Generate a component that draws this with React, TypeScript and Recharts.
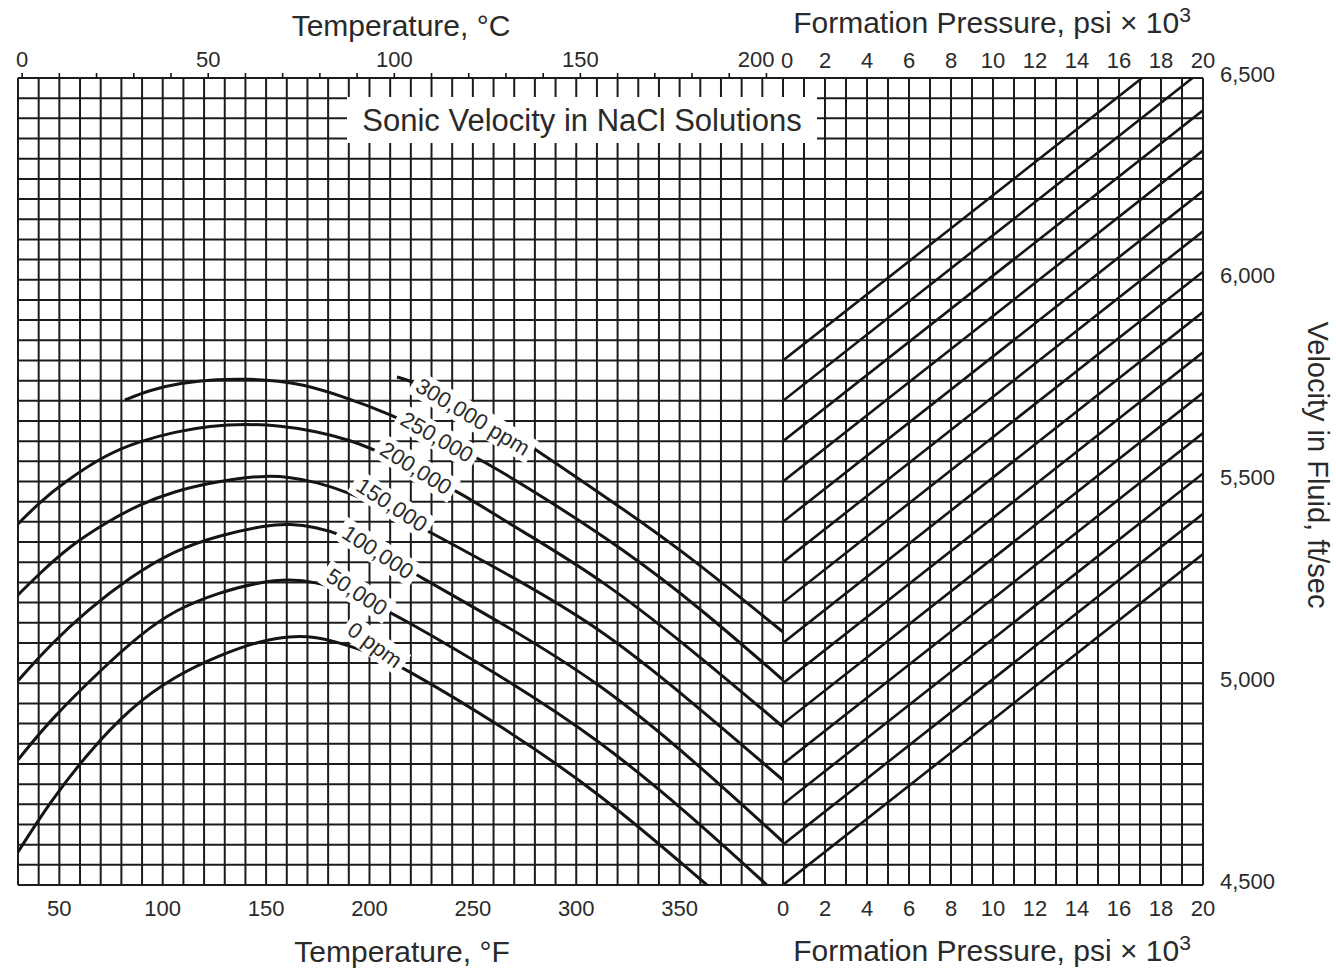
import React from 'react';
import { LineChart, Line, XAxis, YAxis, CartesianGrid, ReferenceDot } from 'recharts';

const FONT = '"Liberation Sans", Arial, Helvetica, sans-serif';
const INK = '#141414';
const GRID = '#1c1c1c';
const TEXT = '#2a2a2a';
const W = 1336;
const H = 971;

// ---------- axis ticks / grid values ----------
const tempFGrid = [30, 40, 50, 60, 70, 80, 90, 100, 110, 120, 130, 140, 150, 160, 170, 180, 190, 200, 210, 220, 230, 240, 250, 260, 270, 280, 290, 300, 310, 320, 330, 340, 350, 360, 370, 380, 390, 400];
const tempFLabels = [50, 100, 150, 200, 250, 300, 350];
const tempCTicks = [0, 10, 20, 30, 40, 50, 60, 70, 80, 90, 100, 110, 120, 130, 140, 150, 160, 170, 180, 190, 200];
const tempCLabels = [0, 50, 100, 150, 200];
const pressureGrid = [0, 1, 2, 3, 4, 5, 6, 7, 8, 9, 10, 11, 12, 13, 14, 15, 16, 17, 18, 19, 20];
const pressureLabels = [0, 2, 4, 6, 8, 10, 12, 14, 16, 18, 20];
const velocityGrid = [4500, 4550, 4600, 4650, 4700, 4750, 4800, 4850, 4900, 4950, 5000, 5050, 5100, 5150, 5200, 5250, 5300, 5350, 5400, 5450, 5500, 5550, 5600, 5650, 5700, 5750, 5800, 5850, 5900, 5950, 6000, 6050, 6100, 6150, 6200, 6250, 6300, 6350, 6400, 6450, 6500];
const velocityLabels = [4500, 5000, 5500, 6000, 6500];

// ---------- salinity curves: [temperature °F, velocity ft/s] ----------
const curve0 = [[30, 4582], [45.5, 4706], [63.8, 4827], [84.2, 4939], [105.9, 5018], [127.7, 5070], [147, 5105], [161.5, 5117], [174.1, 5115], [182.3, 5105], [202.6, 5072], [216.2, 5040], [263.1, 4897], [311.4, 4728], [363.2, 4500]];
const curve50k = [[30, 4810], [45.5, 4909], [72.1, 5043], [89, 5120], [105.9, 5182], [127.7, 5226], [147, 5251], [161.5, 5258], [174.1, 5251], [185.7, 5231], [200.2, 5201], [214.7, 5164], [263.1, 5020], [311.4, 4859], [355, 4674], [392.2, 4500]];
const curve100k = [[30, 5006], [45.5, 5095], [63.8, 5182], [84.2, 5263], [105.9, 5330], [127.7, 5367], [150.4, 5392], [161.5, 5395], [174.1, 5387], [185.7, 5370], [204.1, 5325], [222.9, 5268], [263.1, 5152], [311.4, 5001], [355, 4817], [400, 4607]];
const curve150k = [[30, 5219], [40.6, 5273], [55.1, 5340], [72.1, 5397], [89, 5444], [105.9, 5476], [122.8, 5496], [137.4, 5509], [150.4, 5514], [161.5, 5511], [174.1, 5499], [190.5, 5472], [210.9, 5424], [230.2, 5372], [263.1, 5281], [311.4, 5139], [355, 4958], [400, 4760]];
const curve200k = [[30, 5395], [40.6, 5449], [51.8, 5496], [72.1, 5566], [89, 5600], [105.9, 5623], [122.8, 5638], [140.3, 5643], [156.7, 5638], [174.1, 5625], [190.5, 5603], [205, 5573], [222.5, 5529], [243.3, 5474], [272.7, 5380], [311.4, 5261], [355, 5087], [400, 4892]];
const curve250k = [[81.7, 5702], [93.8, 5727], [108.3, 5744], [126.2, 5754], [142.2, 5754], [156.7, 5749], [166.4, 5742], [185.7, 5714], [211.3, 5665], [232.6, 5610], [254.4, 5553], [282.4, 5467], [323.5, 5330], [359.8, 5187], [400, 5008]];
const curve300k = [[213.3, 5759], [223.4, 5744], [252.4, 5672], [282.4, 5573], [316.3, 5454], [351.1, 5330], [400, 5127]];

const salinityCurves = [curve0, curve50k, curve100k, curve150k, curve200k, curve250k, curve300k];
const salinityNames = ['0 ppm', '50,000', '100,000', '150,000', '200,000', '250,000', '300,000 ppm'];
// where each curve's label sits (°F, ft/s) and its tilt (deg)
const tagF = [202.6, 193.9, 204.1, 210.8, 222.5, 232.6, 250.0];
const tagV = [5095, 5226, 5325, 5442, 5533, 5610, 5660];
const tagAngle = [36, 33, 33, 33, 32, 30, 31];

// ---------- pressure correction lines ----------
const pressureStartV = [4500, 4600, 4700, 4800, 4900, 5000, 5100, 5200, 5300, 5400, 5500, 5600, 5700, 5800];
const pressureEndP = [20, 20, 20, 20, 20, 20, 20, 20, 20, 20, 20, 20, 19.5, 17.1];
const pressureEndV = [5320, 5420, 5520, 5620, 5720, 5820, 5920, 6020, 6120, 6220, 6320, 6420, 6500, 6500];

const cDomain: [number, number] = [(30 - 32) / 1.8, (400 - 32) / 1.8];

const charW: Record<string, number> = { ',': 0.278, ' ': 0.278, p: 0.556, m: 0.833 };
const textWidth = (s: string, size: number) =>
  s.split('').reduce((a, c) => a + (charW[c] ?? 0.556), 0) * size;

const CurveTag = (props: any) => {
  const { cx, cy, text, angle } = props;
  if (cx == null || cy == null) return null;
  const w = textWidth(text, 22) + 10;
  return (
    <g transform={`translate(${cx},${cy}) rotate(${angle})`}>
      <rect x={-w / 2} y={-13} width={w} height={26} fill="#ffffff" />
      <text x={0} y={0} textAnchor="middle" dominantBaseline="central" fontSize={22} fill={TEXT} fontFamily={FONT}>
        {text}
      </text>
    </g>
  );
};

const VTick = (props: any) => {
  const { x, y, payload } = props;
  if (!velocityLabels.includes(payload.value)) return null;
  return (
    <text x={x} y={y - 4} dy="0.35em" textAnchor="start" fontSize={22} fill={TEXT} fontFamily={FONT}>
      {payload.value.toLocaleString('en-US')}
    </text>
  );
};

// °C labels on top; the last one is pulled left so it does not run into the pressure scale
const CTick = (props: any) => {
  const { x, y, payload } = props;
  const v = payload.value;
  if (!tempCLabels.includes(v)) return null;
  const last = v === tempCLabels[tempCLabels.length - 1];
  return (
    <text x={last ? x + 8 : x} y={y} textAnchor={last ? 'end' : 'middle'} fontSize={22} fill={TEXT} fontFamily={FONT}>
      {String(v)}
    </text>
  );
};

const PTopTick = (props: any) => {
  const { x, y, payload } = props;
  if (!pressureLabels.includes(payload.value)) return null;
  const first = payload.value === pressureLabels[0];
  return (
    <text x={first ? x + 4 : x} y={y} textAnchor="middle" fontSize={22} fill={TEXT} fontFamily={FONT}>
      {String(payload.value)}
    </text>
  );
};

const tickStyle = { fontSize: 22, fill: TEXT, fontFamily: FONT };

export default function App() {
  const curves = salinityCurves.map((c) => c.map(([f, v]) => ({ f, v })));
  const plines = pressureStartV.map((v0, i) => [
    { p: 0, v: v0 },
    { p: pressureEndP[i], v: pressureEndV[i] },
  ]);
  const cRows = tempCTicks.map((c) => ({ c }));
  const pRows = pressureGrid.map((p) => ({ p }));
  return (
    <div style={{ position: 'absolute', left: 0, top: 0, width: W, height: H, background: '#fff', fontFamily: FONT }}>
      {/* temperature panel */}
      <div style={{ position: 'absolute', left: 0, top: 0 }}>
        <LineChart width={W} height={H} data={cRows} margin={{ top: 0, right: W - 783, bottom: 0, left: 18 }}>
          <XAxis
            xAxisId="c"
            dataKey="c"
            orientation="top"
            type="number"
            domain={cDomain}
            allowDataOverflow
            ticks={tempCTicks}
            interval={0}
            height={78}
            axisLine={false}
            tickLine={{ stroke: INK, strokeWidth: 1.6 }}
            tickSize={5}
            tickMargin={6}
            tick={<CTick />}
          />
          <XAxis
            xAxisId="f"
            orientation="bottom"
            type="number"
            dataKey="f"
            domain={[30, 400]}
            allowDataOverflow
            ticks={tempFGrid}
            interval={0}
            height={86}
            axisLine={false}
            tickLine={false}
            tickSize={0}
            tickMargin={15}
            tick={tickStyle}
            tickFormatter={(v: number) => (tempFLabels.includes(v) ? String(v) : '')}
          />
          <YAxis yAxisId="v" type="number" domain={[4500, 6500]} allowDataOverflow ticks={velocityGrid} interval={0} hide width={0} />
          <CartesianGrid xAxisId="f" yAxisId="v" stroke={GRID} strokeWidth={2} />
          {curves.map((d, i) => (
            <Line
              key={salinityNames[i]}
              data={d}
              dataKey="v"
              xAxisId="f"
              yAxisId="v"
              type="basis"
              dot={false}
              activeDot={false}
              stroke={INK}
              strokeWidth={3}
              isAnimationActive={false}
            />
          ))}
          {salinityNames.map((name, i) => (
            <ReferenceDot
              key={'tag' + name}
              xAxisId="f"
              yAxisId="v"
              x={tagF[i]}
              y={tagV[i]}
              r={0}
              ifOverflow="visible"
              shape={(p: any) => <CurveTag {...p} text={name} angle={tagAngle[i]} />}
            />
          ))}
        </LineChart>
      </div>

      {/* pressure panel */}
      <div style={{ position: 'absolute', left: 0, top: 0 }}>
        <LineChart width={W} height={H} data={pRows} margin={{ top: 0, right: 0, bottom: 0, left: 783 }}>
          <XAxis
            xAxisId="pt"
            dataKey="p"
            orientation="top"
            type="number"
            domain={[0, 20]}
            allowDataOverflow
            ticks={pressureGrid}
            interval={0}
            height={78}
            axisLine={false}
            tickLine={false}
            tickSize={0}
            tickMargin={10}
            tick={<PTopTick />}
          />
          <XAxis
            xAxisId="pb"
            orientation="bottom"
            type="number"
            dataKey="p"
            domain={[0, 20]}
            allowDataOverflow
            ticks={pressureGrid}
            interval={0}
            height={86}
            axisLine={false}
            tickLine={false}
            tickSize={0}
            tickMargin={15}
            tick={tickStyle}
            tickFormatter={(v: number) => (pressureLabels.includes(v) ? String(v) : '')}
          />
          <YAxis
            yAxisId="vr"
            orientation="right"
            type="number"
            domain={[4500, 6500]}
            allowDataOverflow
            ticks={velocityGrid}
            interval={0}
            width={133}
            axisLine={false}
            tickLine={false}
            tickSize={0}
            tickMargin={17}
            tick={<VTick />}
          />
          <CartesianGrid xAxisId="pb" yAxisId="vr" stroke={GRID} strokeWidth={2} />
          {plines.map((d, i) => (
            <Line
              key={'p' + pressureStartV[i]}
              data={d}
              dataKey="v"
              xAxisId="pb"
              yAxisId="vr"
              type="linear"
              dot={false}
              activeDot={false}
              stroke={INK}
              strokeWidth={2.6}
              isAnimationActive={false}
            />
          ))}
        </LineChart>
      </div>

      {/* titles */}
      <svg width={W} height={H} style={{ position: 'absolute', left: 0, top: 0, pointerEvents: 'none' }}>
        <g fontFamily={FONT} fill={TEXT} fontSize={30}>
          <text x={401} y={36} textAnchor="middle">Temperature, °C</text>
          <text x={992} y={33} textAnchor="middle">
            <tspan>Formation Pressure, psi × 10</tspan>
            <tspan dy={-11} fontSize={21}>3</tspan>
          </text>
          <text x={402} y={962} textAnchor="middle">Temperature, °F</text>
          <text x={992} y={961} textAnchor="middle">
            <tspan>Formation Pressure, psi × 10</tspan>
            <tspan dy={-11} fontSize={21}>3</tspan>
          </text>
          <text transform="translate(1318,465) rotate(90)" textAnchor="middle" dominantBaseline="central" fontSize={29}>
            Velocity in Fluid, ft/sec
          </text>
          <rect x={347} y={97} width={470} height={46} fill="#ffffff" />
          <text x={582} y={131} textAnchor="middle" fontSize={31}>Sonic Velocity in NaCl Solutions</text>
        </g>
      </svg>
    </div>
  );
}
